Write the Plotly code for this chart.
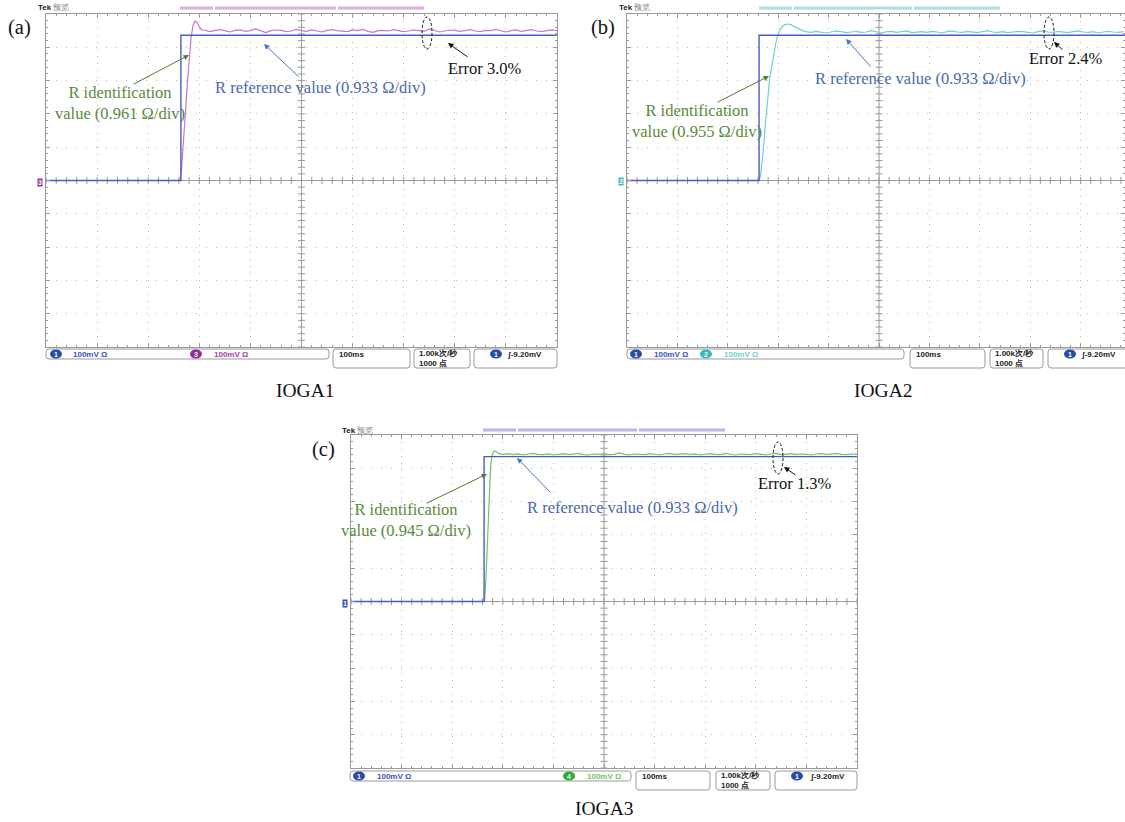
import plotly.graph_objects as go

W, H = 1125, 822

# ---------------- data (time in ms, 100 ms/div; amplitude in mV, 100 mV/div) ----------------
a_ref_t = [0, 264, 264, 1000]
a_ref_v = [0, 0, 436, 436]
a_edge_t = [0, 262, 265, 268, 271, 274, 277, 280, 284, 288, 292, 296, 300, 305]
a_edge_v = [0, 0, 30, 90, 160, 230, 300, 370, 430, 468, 479, 474, 462, 452]
a_tail_t = list(range(310, 1001, 10))
a_tail_v = [452, 447, 449, 453, 450, 446, 451, 452, 448, 450,
            455, 449, 444, 450, 452, 451, 447, 449, 454, 450,
            448, 452, 449, 446, 451, 453, 450, 449, 447, 452,
            450, 454, 448, 445, 450, 451, 449, 453, 451, 447,
            449, 452, 450, 448, 455, 450, 446, 449, 452, 451,
            448, 450, 453, 449, 447, 451, 450, 454, 449, 446,
            450, 452, 448, 451, 453, 449, 447, 450, 452, 450]

b_ref_t = [0, 262, 262, 988]
b_ref_v = [0, 0, 436, 436]
b_edge_t = [0, 262, 265, 268, 271, 274, 277, 280, 283, 287, 291, 295, 299, 303, 308, 313, 318, 325, 332, 340, 348]
b_edge_v = [0, 0, 15, 50, 100, 160, 215, 265, 305, 340, 378, 410, 435, 451, 462, 468, 470, 468, 462, 455, 450]
b_tail_t = list(range(355, 986, 10))
b_tail_v = [447, 445, 448, 446, 443, 446, 449, 447, 444, 446,
            448, 445, 446, 450, 446, 443, 447, 448, 445, 446,
            449, 444, 446, 447, 445, 448, 446, 443, 447, 449,
            446, 445, 448, 446, 444, 447, 450, 446, 445, 447,
            444, 446, 448, 447, 445, 443, 447, 449, 446, 445,
            448, 446, 444, 447, 449, 446, 445, 447, 443, 446,
            448, 446, 445, 447]

c_ref_t = [0, 263, 263, 1000]
c_ref_v = [0, 0, 435, 435]
c_edge_t = [0, 264, 267, 270, 273, 276, 279, 283, 287, 292]
c_edge_v = [0, 0, 80, 200, 320, 410, 440, 452, 450, 444]
c_tail_t = list(range(300, 1001, 10))
c_tail_v = [442, 444, 441, 443, 440, 442, 445, 442, 441, 443,
            440, 442, 444, 441, 443, 445, 441, 440, 443, 442,
            444, 441, 442, 446, 442, 440, 443, 442, 441, 444,
            442, 440, 443, 445, 441, 442, 444, 441, 443, 440,
            442, 444, 442, 441, 445, 442, 440, 443, 442, 441,
            444, 442, 440, 443, 445, 441, 442, 444, 441, 443,
            442, 440, 443, 444, 441, 442, 445, 442, 441, 443,
            442]

panel_labels = ["(a)", "(b)", "(c)"]
panel_titles = ["IOGA1", "IOGA2", "IOGA3"]
ident_labels = ["R identification<br>value (0.961 Ω/div)",
                "R identification<br>value (0.955 Ω/div)",
                "R identification<br>value (0.945 Ω/div)"]
ref_label = "R reference value (0.933 Ω/div)"
error_labels = ["Error 3.0%", "Error 2.4%", "Error 1.3%"]
ch_numbers = ["3", "2", "4"]
ch_scale = "100mV Ω"
time_scale = "100ms"
rate_text = "1.00k次/秒<br>1000 点"
trig_text = "ʃ-9.20mV"

# ---------------- styling ----------------
BLUE = "#4a5cc4"
IDENT_COLORS = ["#c878c8", "#70d0d0", "#70c462"]
BADGE_COLORS = ["#9a2a9a", "#38b8b8", "#30a838"]
BAR_COLORS = ["#dcb0dc", "#a8e0e0", "#b8b8e6"]
GREEN_TXT = "#5b8a3c"
BLUE_TXT = "#4a68ac"
GRID = "#b8b8b8"
FRAME = "#9a9a9a"
SERIF = "Liberation Serif"
SANS = "Liberation Sans"
ANN = 16.5


def X(x):
    return x / W


def Y(y):
    return 1 - y / H


panels = [
    dict(x0=46, x1=557, y0=14, y1=347, xmax=1000),
    dict(x0=627, x1=1125, y0=14, y1=347, xmax=988),
    dict(x0=351, x1=857, y0=435, y1=768, xmax=1000),
]
refs = [(a_ref_t, a_ref_v), (b_ref_t, b_ref_v), (c_ref_t, c_ref_v)]
idents = [(a_edge_t + a_tail_t, a_edge_v + a_tail_v),
          (b_edge_t + b_tail_t, b_edge_v + b_tail_v),
          (c_edge_t + c_tail_t, c_edge_v + c_tail_v)]

fig = go.Figure()
layout = dict(width=W, height=H, margin=dict(l=0, r=0, t=0, b=0),
              paper_bgcolor="white", plot_bgcolor="white", showlegend=False)
shapes = []
annotations = []


def txt(x, y, s, size, color, family=SERIF, xanchor="center", yanchor="middle", align="center"):
    annotations.append(dict(x=X(x), y=Y(y), xref="paper", yref="paper", text=s, showarrow=False,
                            font=dict(size=size, color=color, family=family),
                            xanchor=xanchor, yanchor=yanchor, align=align))


def arrow(tx, ty, sx, sy, color):
    annotations.append(dict(x=X(tx), y=Y(ty), xref="paper", yref="paper", text="",
                            showarrow=True, ax=sx - tx, ay=sy - ty, axref="pixel", ayref="pixel",
                            arrowhead=2, arrowsize=1.1, arrowwidth=1, arrowcolor=color))


def rrect(x0, y0, x1, y1, r=3, fill="white", line=FRAME):
    p = (f"M {X(x0 + r)},{Y(y0)} L {X(x1 - r)},{Y(y0)} Q {X(x1)},{Y(y0)} {X(x1)},{Y(y0 + r)} "
         f"L {X(x1)},{Y(y1 - r)} Q {X(x1)},{Y(y1)} {X(x1 - r)},{Y(y1)} "
         f"L {X(x0 + r)},{Y(y1)} Q {X(x0)},{Y(y1)} {X(x0)},{Y(y1 - r)} "
         f"L {X(x0)},{Y(y0 + r)} Q {X(x0)},{Y(y0)} {X(x0 + r)},{Y(y0)} Z")
    shapes.append(dict(type="path", path=p, xref="paper", yref="paper",
                       line=dict(color=line, width=1), fillcolor=fill, layer="above"))


def badge(cx, cy, num, color):
    shapes.append(dict(type="circle", xref="paper", yref="paper",
                       x0=X(cx - 6), x1=X(cx + 6), y0=Y(cy + 4.5), y1=Y(cy - 4.5),
                       fillcolor=color, line=dict(width=0), layer="above"))
    txt(cx, cy, f"<b>{num}</b>", 7, "white", SANS)


for i, p in enumerate(panels):
    k = "" if i == 0 else str(i + 1)
    xa, ya = "x" + k, "y" + k
    layout["xaxis" + k] = dict(domain=[X(p["x0"]), X(p["x1"])], range=[0, p["xmax"]], anchor=ya,
                               showgrid=True, gridcolor=GRID, griddash="1px,6px", gridwidth=1,
                               tick0=0, dtick=100, ticks="inside", ticklen=4, tickcolor=FRAME,
                               showticklabels=False, showline=True, linecolor=FRAME, linewidth=1,
                               mirror="allticks", zeroline=False, fixedrange=True,
                               minor=dict(dtick=20, ticks="inside", ticklen=2, tickcolor=FRAME, showgrid=False))
    layout["yaxis" + k] = dict(domain=[Y(p["y1"]), Y(p["y0"])], range=[-500, 500], anchor=xa,
                               showgrid=True, gridcolor=GRID, griddash="1px,9px", gridwidth=1,
                               tick0=0, dtick=100, ticks="inside", ticklen=4, tickcolor=FRAME,
                               showticklabels=False, showline=True, linecolor=FRAME, linewidth=1,
                               mirror="allticks", zeroline=False, fixedrange=True,
                               minor=dict(dtick=20, ticks="inside", ticklen=2, tickcolor=FRAME, showgrid=False))
    # centre crosshair
    shapes.append(dict(type="line", xref=xa, yref=ya, x0=500, x1=500, y0=-500, y1=500,
                       line=dict(color=FRAME, width=1), layer="below"))
    shapes.append(dict(type="line", xref=xa, yref=ya, x0=0, x1=p["xmax"], y0=0, y1=0,
                       line=dict(color=FRAME, width=1), layer="below"))
    hx = list(range(0, p["xmax"] + 1, 20))
    vy = list(range(-500, 501, 20))
    fig.add_trace(go.Scatter(x=hx, y=[0] * len(hx), xaxis=xa, yaxis=ya, mode="markers", hoverinfo="skip",
                             marker=dict(symbol="line-ns", size=5, line=dict(color=FRAME, width=1))))
    fig.add_trace(go.Scatter(x=[500] * len(vy), y=vy, xaxis=xa, yaxis=ya, mode="markers", hoverinfo="skip",
                             marker=dict(symbol="line-ew", size=5, line=dict(color=FRAME, width=1))))
    # waveforms
    fig.add_trace(go.Scatter(x=idents[i][0], y=idents[i][1], xaxis=xa, yaxis=ya, mode="lines",
                             line=dict(color=IDENT_COLORS[i], width=1.2)))
    fig.add_trace(go.Scatter(x=refs[i][0], y=refs[i][1], xaxis=xa, yaxis=ya, mode="lines",
                             line=dict(color=BLUE, width=1.4)))
    # trigger marker
    fig.add_trace(go.Scatter(x=[500, 500], y=[522, 502], xaxis=xa, yaxis=ya, mode="markers",
                             cliponaxis=False, hoverinfo="skip",
                             marker=dict(symbol="triangle-down", size=[5, 6], color="#f0a030")))

# channel markers at the left of the baseline
txt(40, 182, "<b>3</b>", 7, "white", SANS)
annotations[-1].update(bgcolor=BADGE_COLORS[0], borderpad=0)
txt(621, 181, "<b>2</b>", 7, "white", SANS)
annotations[-1].update(bgcolor=BADGE_COLORS[1], borderpad=0)
txt(345, 603, "<b>1</b>", 7, "white", SANS)
annotations[-1].update(bgcolor="#3050b0", borderpad=0)

# record bars + header
bars = [(8, [(180, 213), (215, 336), (338, 424)]),
        (8, [(759, 792), (794, 912), (914, 1000)]),
        (430, [(483, 516), (518, 637), (639, 725)])]
for i, (by, segs) in enumerate(bars):
    for s0, s1 in segs:
        shapes.append(dict(type="line", xref="paper", yref="paper", x0=X(s0), x1=X(s1), y0=Y(by), y1=Y(by),
                           line=dict(color=BAR_COLORS[i], width=3)))
for hx_, hy_ in [(36, 8), (617, 8), (340, 430)]:
    txt(hx_, hy_, "<b>Tek</b> <span style='color:#777'>预览</span>", 8, "#222", SANS, xanchor="left")

# status bars
status = [
    dict(b1=(46, 329), b2=(333, 410), b3=(414, 470), b4=(474, 557), top=349,
         bd1=56, t1=71, bd2=196, t2=212, bd4=496, t4=505),
    dict(b1=(627, 904), b2=(910, 985), b3=(990, 1043), b4=(1048, 1130), top=349,
         bd1=636, t1=652, bd2=706, t2=722, bd4=1070, t4=1079),
    dict(b1=(350, 631), b2=(636, 710), b3=(716, 770), b4=(775, 857), top=771,
         bd1=359, t1=375, bd2=569, t2=585, bd4=797, t4=808),
]
for i, s in enumerate(status):
    top = s["top"]
    rrect(s["b1"][0], top, s["b1"][1], top + 10)
    rrect(s["b2"][0], top, s["b2"][1], top + 19)
    rrect(s["b3"][0], top, s["b3"][1], top + 19)
    rrect(s["b4"][0], top, s["b4"][1], top + 19)
    badge(s["bd1"], top + 5, "1", "#2a4aa8")
    txt(s["t1"], top + 5, f"<b>{ch_scale}</b>", 8, "#3a50c0", SANS, xanchor="left")
    badge(s["bd2"], top + 5, ch_numbers[i], BADGE_COLORS[i])
    txt(s["t2"], top + 5, f"<b>{ch_scale}</b>", 8, IDENT_COLORS[i] if i else "#a040a8", SANS, xanchor="left")
    txt(s["b2"][0] + 4, top + 5, f"<b>{time_scale}</b>", 8, "#222", SANS, xanchor="left")
    txt(s["b3"][0] + 3, top + 9.5, f"<b>{rate_text}</b>", 8, "#222", SANS, xanchor="left", align="left")
    badge(s["bd4"], top + 5, "1", "#2a4aa8")
    txt(s["t4"], top + 5, f"<b>{trig_text}</b>", 8, "#222", SANS, xanchor="left")

# panel labels and titles
txt(19, 28, panel_labels[0], 20.5, "#111")
txt(603, 28, panel_labels[1], 20.5, "#111")
txt(323, 449, panel_labels[2], 20.5, "#111")
txt(305, 390, panel_titles[0], 19.5, "#111")
txt(883, 390, panel_titles[1], 19.5, "#111")
txt(604, 808, panel_titles[2], 19.5, "#111")

# annotation texts & arrows
txt(120, 103, ident_labels[0], ANN, GREEN_TXT)
txt(697, 121, ident_labels[1], ANN, GREEN_TXT)
txt(406, 520, ident_labels[2], ANN, GREEN_TXT)
txt(320, 87, ref_label, ANN, BLUE_TXT)
txt(920, 78, ref_label, ANN, BLUE_TXT)
txt(632, 507, ref_label, ANN, BLUE_TXT)
txt(485, 69, error_labels[0], ANN, "#111")
txt(1066, 59, error_labels[1], ANN, "#111")
txt(795, 484, error_labels[2], ANN, "#111")

arrow(189, 55, 132, 85, "#4f7f2f")
arrow(769, 76, 716, 103, "#4f7f2f")
arrow(487, 474, 425, 504, "#4f7f2f")
arrow(264, 44, 300, 78, "#4a78c8")
arrow(846, 39, 872, 68, "#4a78c8")
arrow(517, 458, 552, 494, "#4a78c8")
arrow(448, 43, 469, 58, "#111")
arrow(1054, 42, 1064, 51, "#111")
arrow(784, 467, 797, 476, "#111")

for cx, cy in [(427, 33), (1049, 33), (778, 458)]:
    shapes.append(dict(type="circle", xref="paper", yref="paper",
                       x0=X(cx - 5), x1=X(cx + 5), y0=Y(cy + 16), y1=Y(cy - 16),
                       line=dict(color="#111", width=1, dash="3px,2px")))

layout["shapes"] = shapes
layout["annotations"] = annotations
fig.update_layout(**layout)
fig.write_html("out.html")
